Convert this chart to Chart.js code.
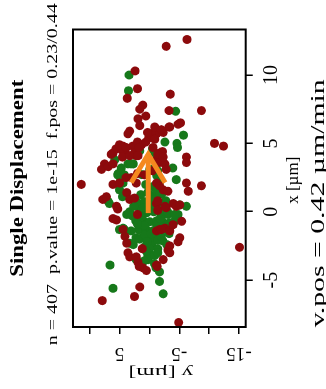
<!DOCTYPE html>
<html><head><meta charset="utf-8">
<script src="https://cdn.jsdelivr.net/npm/chart.js@4"></script>
<style>
html,body{margin:0;padding:0;background:#fff;overflow:hidden;}
#wrap{position:absolute;left:0;top:0;width:389px;height:326px;transform-origin:0 0;transform:translate(0px,389px) rotate(-90deg);}
canvas{display:block;}
</style></head><body>
<div id="wrap"><canvas id="c" width="389" height="326"></canvas></div>
<script>
// ---- data (x = horizontal displacement, y = vertical displacement, in µm) ----
const redX = [12.6,12.1,10.3,9.0,8.3,8.6,7.4,7.4,7.8,7.5,7.0,6.8,6.3,6.5,6.2,5.9,5.7,5.9,5.8,5.7,5.7,5.4,5.3,5.0,4.8,4.3,4.6,4.8,4.4,4.8,4.3,4.9,4.1,4.7,4.3,4.4,4.0,4.5,3.5,3.1,3.3,2.0,2.0,0.9,1.1,0.4,-0.5,-0.6,-1.3,-1.8,-2.3,-3.0,-3.3,-3.7,-4.1,-4.3,-5.5,-6.2,-6.5,-3.9,-3.5,-2.8,-2.5,-2.2,-1.9,-1.3,-1.2,-1.4,-0.7,3.6,2.1,1.5,1.9,3.8,3.6,3.5,3.1,1.6,1.5,0.3,0.6,0.1,0.6,0.4,1.4,0.9,1.0,2.5,2.1,2.1,-2.6,-8.1,-3.3,-4.0,-4.0,-3.0,-1.4,-1.3,5.8,5.1,5.1,4.2,4.9,4.7,4.7,3.5,0.2,2.1,2.5,4.0,4.1,4.1,6.2,6.0,6.2,6.4,4.2,4.0,1.9,0.8,0.4,0.5,-0.95,-0.2,2.7,3.0,-2.7,2.8];
const redY = [-6.3,-2.8,2.4,2.0,3.7,-3.5,-3.3,-8.7,1.1,1.6,0.6,1.9,1.6,-5.2,-3.3,3.3,3.6,-1.7,-2.3,-1.2,-0.3,0.1,-0.9,-10.9,-12.4,6.1,5.6,4.4,4.1,2.8,2.5,1.3,2.2,-0.6,-1.7,-2.2,-6.2,4.6,7.5,8.0,6.9,6.1,11.4,7.8,7.2,5.5,6.1,5.5,4.4,4.1,3.8,3.6,3.3,1.9,1.1,0.5,1.6,2.5,7.9,-1.2,-2.3,-3.1,-3.4,-4.8,-5.1,-1.7,-2.6,-3.4,-5.4,-6.2,-6.2,-6.5,-8.7,-1.2,-1.7,-2.6,-2.8,-2.3,-3.1,-2.8,-1.2,-1.4,-4.0,-4.5,3.8,3.3,2.5,3.0,2.2,-1.2,-15.1,-4.9,2.2,1.7,-1.3,-3.4,-1.2,-2.0,0.3,2.0,0.6,6.4,5.0,3.9,1.7,6.1,5.3,5.0,3.9,4.5,3.3,1.9,-0.9,-2.0,-3.4,-4.8,-1.4,-2.3,-1.7,-1.4,-2.6,-5.1,-3.95,2.0,0.8,-0.5,1.2,2.0];
const greenX = [10.0,8.85,7.35,5.6,5.1,5.0,4.7,4.45,4.6,4.3,3.8,2.8,2.6,3.5,3.5,2.1,1.6,3.2,2.35,0.76,0.0,-0.2,-1.2,-1.3,0.5,0.4,-0.2,-2.8,-3.0,-3.5,-4.4,-5.1,-6.0,-3.9,-5.6,-3.5,-2.3,-2.4,-1.3,-0.8,-0.7,1.25,1.4,1.18,1.32,0.66,0.74,0.52,0.66,0.81,0.07,-0.07,0.0,-0.15,0.0,-0.66,-0.59,-0.73,-0.66,-0.81,-1.32,-1.25,-1.4,-1.47,-1.91,-2.06,-1.99,-2.13,-2.57,-2.5,-2.72,2.72,3.09,2.65,1.99,1.84,2.21,3.2,3.0,1.5,1.25,0.64,-0.2,-0.2,-0.46,-0.95,-1.3,-1.4,-1.9,-2.0,-1.7,-2.7,-3.3,-3.8,-4.1,-1.7,-2.1,-3.2,2.7,3.2,0.6,1.1,2.7,3.5,0.3,-0.4,-1.0,-1.6,-2.2,0.9,0.2,-0.5,-1.1,-1.8,-2.4,0.4,-0.3,-0.9,-1.6,-3.0,-3.6,-2.9];
const greenY = [3.4,3.5,-4.4,-5.7,-2.6,-4.6,-4.7,1.6,-0.5,-0.9,5.8,5.2,5.0,3.6,2.7,4.4,5.0,-3.9,-4.5,6.9,3.3,3.8,4.4,5.0,-5.1,-6.2,-4.8,0.5,0.0,0.2,-1.7,-1.7,-2.3,6.6,6.1,2.2,3.3,2.7,-2.8,-3.4,-4.2,1.45,0.28,-0.89,-2.06,1.96,0.79,-0.39,-1.56,-2.73,1.62,0.45,-0.72,-1.89,-3.06,2.29,1.12,-0.05,-1.22,-2.39,1.79,0.62,-0.55,-1.73,1.28,0.11,-1.06,-2.23,0.78,-0.39,-1.39,1.28,-0.05,-1.22,0.62,-0.55,-1.73,-0.9,-1.4,-1.2,-1.7,-2.6,-3.1,-4.2,-2.0,-1.2,4.2,3.07,2.24,1.67,0.83,0.0,0.28,-0.84,-1.1,-1.2,-1.4,-0.9,5.3,4.7,6.7,4.5,4.2,3.1,1.0,1.4,0.9,-0.3,0.4,-0.6,-1.3,-1.8,-2.8,-2.0,-2.9,2.6,2.9,2.0,-3.3,-1.4,0.9,0.5];
const arrowFrom = [-0.1, 0.2];
const arrowTo = [4.2, 0.2];
const xTickValues = [-5, 0, 5, 10];
const xTickLabels = ['-5', '0', '5', '10'];
const yTickValues = [-15, -10, -5, 0, 5, 10];
const yTickLabels = ['-15', '', '-5', '', '5', ''];
const titleText = 'Single Displacement';
const subtitleText = 'n = 407  p.value = 1e-15  f.pos = 0.23/0.44';
const xLabel = 'x [\u00b5m]';
const xLabel2 = 'v.pos = 0.42 \u00b5m/min';
const yLabel = 'y [\u00b5m]';

const RED = '#8c0a0c', GREEN = '#16781a', ORANGE = '#f5891f';
const FAM = '"Liberation Serif", "Times New Roman", serif';

function drawText(ctx, s, cx, by, size, weight, width, rot) {
  ctx.save();
  ctx.font = weight + ' ' + size + 'px ' + FAM;
  ctx.translate(cx, by);
  if (rot) ctx.rotate(rot);
  if (width) { const w = ctx.measureText(s).width; ctx.scale(width / w, 1); }
  ctx.textAlign = 'center';
  ctx.textBaseline = 'alphabetic';
  ctx.fillStyle = '#000';
  ctx.fillText(s, 0, 0);
  ctx.restore();
}

const decor = {
  id: 'decor',
  afterDatasetsDraw(chart) {
    const {ctx, scales: {x, y}} = chart;
    const x0 = x.getPixelForValue(arrowFrom[0]), y0 = y.getPixelForValue(arrowFrom[1]);
    const x1 = x.getPixelForValue(arrowTo[0]), y1 = y.getPixelForValue(arrowTo[1]);
    const ang = Math.atan2(y1 - y0, x1 - x0), L = 33, th = 31 * Math.PI / 180;
    ctx.save();
    ctx.strokeStyle = ORANGE; ctx.lineWidth = 5; ctx.lineCap = 'butt'; ctx.lineJoin = 'miter';
    ctx.beginPath(); ctx.moveTo(x0, y0); ctx.lineTo(x1, y1); ctx.stroke();
    ctx.beginPath();
    ctx.moveTo(x1 - L * Math.cos(ang - th), y1 - L * Math.sin(ang - th));
    ctx.lineTo(x1, y1);
    ctx.lineTo(x1 - L * Math.cos(ang + th), y1 - L * Math.sin(ang + th));
    ctx.stroke();
    ctx.restore();
  },
  afterDraw(chart) {
    const {ctx, chartArea: a, scales: {x, y}} = chart;
    ctx.save();
    ctx.strokeStyle = '#000'; ctx.lineWidth = 2;
    ctx.strokeRect(a.left, a.top, a.right - a.left, a.bottom - a.top);
    ctx.restore();
    const cx = (a.left + a.right) / 2;
    drawText(ctx, titleText, cx, 22.5, 19, 'bold', 197);
    drawText(ctx, subtitleText, cx + 4, 56.5, 15, 'normal', 342);
    xTickValues.forEach((v, i) => drawText(ctx, xTickLabels[i], x.getPixelForValue(v), a.bottom + 31, 20, 'normal', null));
    drawText(ctx, xLabel, cx - 2, a.bottom + 52.5, 17, 'normal', null);
    drawText(ctx, xLabel2, cx - 25, a.bottom + 78.5, 19, 'normal', 248);
    yTickValues.forEach((v, i) => { if (yTickLabels[i]) drawText(ctx, yTickLabels[i], a.left - 21.3, y.getPixelForValue(v), 19, 'normal', null, -Math.PI / 2); });
    drawText(ctx, yLabel, a.left - 41, (a.top + a.bottom) / 2 + 1.5, 15, 'normal', 65, -Math.PI / 2);
  }
};

const tickGrid = {display: true, drawOnChartArea: false, drawTicks: true, tickLength: 7, color: '#000', lineWidth: 1.5};

new Chart(document.getElementById('c'), {
  type: 'scatter',
  data: {
    datasets: [
      {label: 'other', data: redX.map((v, i) => ({x: v, y: redY[i]})), backgroundColor: RED, borderWidth: 0, pointRadius: 4.5, pointHoverRadius: 4.5},
      {label: 'pos', data: greenX.map((v, i) => ({x: v, y: greenY[i]})), backgroundColor: GREEN, borderWidth: 0, pointRadius: 4.5, pointHoverRadius: 4.5}
    ]
  },
  options: {
    responsive: false, animation: false, devicePixelRatio: 1, events: [],
    layout: {padding: {left: 0, right: 29.5, top: 73, bottom: 0}},
    plugins: {legend: {display: false}, tooltip: {enabled: false}, title: {display: false}},
    scales: {
      x: {type: 'linear', position: 'bottom', min: -8.43, max: 13.33,
          afterBuildTicks: s => { s.ticks = xTickValues.map(v => ({value: v})); },
          afterFit: s => { s.height = 80.3; },
          grid: tickGrid, border: {display: false}, ticks: {display: false}},
      y: {type: 'linear', position: 'left', min: -16.12, max: 12.79,
          afterBuildTicks: s => { s.ticks = yTickValues.map(v => ({value: v})); },
          afterFit: s => { s.width = 62; },
          grid: tickGrid, border: {display: false}, ticks: {display: false}}
    }
  },
  plugins: [decor]
});
</script>
</body></html>
